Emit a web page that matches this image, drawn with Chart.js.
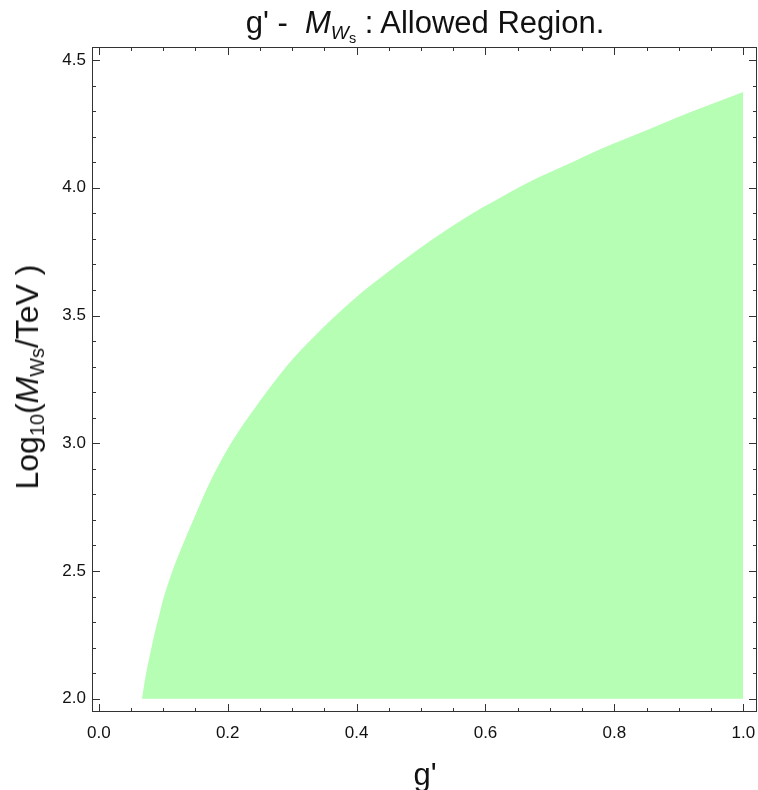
<!DOCTYPE html>
<html>
<head>
<meta charset="utf-8">
<script src="https://cdn.jsdelivr.net/npm/chart.js@4.4.0/dist/chart.umd.min.js"></script>
<style>
  html, body { margin: 0; padding: 0; background: #fff; overflow: hidden; }
  #wrap { position: relative; width: 758px; height: 790px; overflow: hidden; font-family: "Liberation Sans", Arial, sans-serif; color: #111; }
  #chart { position: absolute; left: 0; top: 0; }
  .lbl { position: absolute; white-space: nowrap; line-height: 1; }
  #title { left: 0; width: 850px; top: 7px; font-size: 31px; text-align: center; }
  #xlabel { left: 0; width: 850px; top: 759px; font-size: 31px; text-align: center; }
  #ylabel { left: 27px; top: 377px; font-size: 32px; transform: translate(-50%, -50%) rotate(-90deg); }
  .sub { font-size: 0.62em; position: relative; top: 0.32em; }
  .sub2 { font-size: 0.75em; position: relative; top: 0.25em; }
</style>
</head>
<body>
<div id="wrap">
  <canvas id="chart" width="758" height="790"></canvas>
  <div class="lbl" id="title">g' - &nbsp;<i>M</i><span class="sub"><i>W</i><span class="sub2">s</span></span> : Allowed Region.</div>
  <div class="lbl" id="xlabel">g'</div>
  <div class="lbl" id="ylabel">Log<span class="sub">10</span>(<i>M</i><span class="sub">Ws</span>/TeV )</div>
</div>
<script>
// upper edge of the allowed region
const gPrime = [0.067, 0.072, 0.080, 0.087, 0.094, 0.100, 0.110, 0.125, 0.150, 0.169, 0.187, 0.210, 0.240, 0.291, 0.343, 0.394, 0.446, 0.488, 0.519, 0.570, 0.622, 0.674, 0.726, 0.777, 0.850, 0.902, 0.953, 1.000];
const logMws = [2.00, 2.08, 2.18, 2.26, 2.33, 2.39, 2.47, 2.57, 2.72, 2.83, 2.92, 3.02, 3.13, 3.30, 3.44, 3.56, 3.665, 3.745, 3.80, 3.885, 3.96, 4.03, 4.09, 4.15, 4.225, 4.28, 4.33, 4.375];
const floorY = 2.0;

const xTicks = [0.0, 0.2, 0.4, 0.6, 0.8, 1.0];
const yTicks = [2.0, 2.5, 3.0, 3.5, 4.0, 4.5];
const xMinor = [0.05, 0.1, 0.15, 0.25, 0.3, 0.35, 0.45, 0.5, 0.55, 0.65, 0.7, 0.75, 0.85, 0.9, 0.95];
const yMinor = [2.1, 2.2, 2.3, 2.4, 2.6, 2.7, 2.8, 2.9, 3.1, 3.2, 3.3, 3.4, 3.6, 3.7, 3.8, 3.9, 4.1, 4.2, 4.3, 4.4];

const points = gPrime.map((g, i) => ({ x: g, y: logMws[i] }));

// frame with inward ticks on all four sides
const frameTicks = {
  id: "frameTicks",
  afterDraw(chart) {
    const { ctx, chartArea: a, scales } = chart;
    const xs = scales.x, ys = scales.y;
    ctx.save();
    ctx.strokeStyle = "#333";
    ctx.lineWidth = 1;
    ctx.strokeRect(a.left + 0.5, a.top + 0.5, a.right - a.left - 1, a.bottom - a.top - 1);
    ctx.beginPath();
    const tickX = (v, len) => {
      const px = Math.round(xs.getPixelForValue(v)) + 0.5;
      ctx.moveTo(px, a.bottom); ctx.lineTo(px, a.bottom - len);
      ctx.moveTo(px, a.top); ctx.lineTo(px, a.top + len);
    };
    const tickY = (v, len) => {
      const py = Math.round(ys.getPixelForValue(v)) + 0.5;
      ctx.moveTo(a.left, py); ctx.lineTo(a.left + len, py);
      ctx.moveTo(a.right, py); ctx.lineTo(a.right - len, py);
    };
    xTicks.forEach(v => tickX(v, 8));
    xMinor.forEach(v => tickX(v, 4));
    yTicks.forEach(v => tickY(v, 8));
    yMinor.forEach(v => tickY(v, 4));
    ctx.stroke();
    ctx.restore();
  }
};

new Chart(document.getElementById("chart"), {
  type: "line",
  data: {
    datasets: [{
      data: points,
      borderWidth: 0,
      borderColor: "rgba(0,0,0,0)",
      pointRadius: 0,
      cubicInterpolationMode: "monotone",
      backgroundColor: "rgb(181, 254, 180)",
      fill: { value: floorY },
    }],
  },
  options: {
    responsive: false,
    animation: false,
    layout: { autoPadding: false, padding: { left: 0, top: 47, right: 1, bottom: 0 } },
    plugins: { legend: { display: false }, tooltip: { enabled: false }, title: { display: false } },
    scales: {
      x: {
        type: "linear",
        min: -0.0106,
        max: 1.0213,
        grid: { display: false, drawTicks: false },
        border: { display: false },
        afterBuildTicks: s => { s.ticks = xTicks.map(v => ({ value: v })); },
        afterFit: s => { s.height = 78; s.paddingLeft = 0; s.paddingRight = 0; },
        ticks: {
          padding: 11,
          color: "#111",
          font: { family: "Liberation Sans", size: 17 },
          callback: v => v.toFixed(1),
        },
      },
      y: {
        type: "linear",
        min: 1.948,
        max: 4.551,
        grid: { display: false, drawTicks: false },
        border: { display: false },
        afterBuildTicks: s => { s.ticks = yTicks.map(v => ({ value: v })); },
        afterFit: s => { s.width = 92; s.paddingTop = 0; s.paddingBottom = 0; },
        ticks: {
          padding: 6,
          color: "#111",
          font: { family: "Liberation Sans", size: 17 },
          callback: v => v.toFixed(1),
        },
      },
    },
  },
  plugins: [frameTicks],
});
</script>
</body>
</html>
